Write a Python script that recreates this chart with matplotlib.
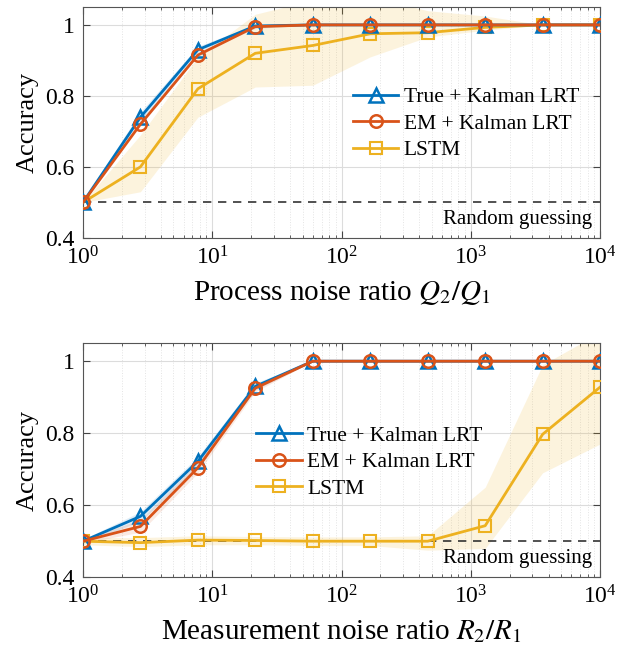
import matplotlib
matplotlib.use("Agg")
import matplotlib.pyplot as plt
import numpy as np

plt.rcParams["font.family"] = ["Liberation Serif", "DejaVu Serif"]
plt.rcParams["mathtext.fontset"] = "stix"

# noise ratios (log-spaced sweep 1 .. 1e4)
ratios = [1.0, 2.78, 7.74, 21.5, 59.9, 166.8, 464.2, 1292.0, 3594.0, 10000.0]

# top panel: process noise ratio
q_true = [0.50, 0.74, 0.93, 0.997, 1.0, 1.0, 1.0, 1.0, 1.0, 1.0]
q_em = [0.50, 0.72, 0.915, 0.995, 1.0, 1.0, 1.0, 1.0, 1.0, 1.0]
q_true_lo = [0.495, 0.725, 0.92, 0.99, 1.0, 1.0, 1.0, 1.0, 1.0, 1.0]
q_true_hi = [0.505, 0.755, 0.94, 1.0, 1.0, 1.0, 1.0, 1.0, 1.0, 1.0]
q_lstm = [0.50, 0.60, 0.82, 0.92, 0.942, 0.975, 0.978, 0.993, 1.0, 1.0]
q_lstm_lo = [0.50, 0.53, 0.74, 0.825, 0.83, 0.91, 0.966, 0.985, 1.0, 1.0]
q_lstm_hi = [0.50, 0.69, 0.91, 1.03, 1.07, 1.08, 1.04, 1.025, 1.0, 1.0]

# bottom panel: measurement noise ratio
r_true = [0.50, 0.569, 0.722, 0.93, 1.0, 1.0, 1.0, 1.0, 1.0, 1.0]
r_em = [0.50, 0.541, 0.704, 0.925, 1.0, 1.0, 1.0, 1.0, 1.0, 1.0]
r_true_lo = [0.495, 0.555, 0.705, 0.92, 1.0, 1.0, 1.0, 1.0, 1.0, 1.0]
r_true_hi = [0.505, 0.582, 0.735, 0.94, 1.0, 1.0, 1.0, 1.0, 1.0, 1.0]
r_em_lo = [0.495, 0.525, 0.69, 0.915, 1.0, 1.0, 1.0, 1.0, 1.0, 1.0]
r_em_hi = [0.505, 0.56, 0.72, 0.935, 1.0, 1.0, 1.0, 1.0, 1.0, 1.0]
r_lstm = [0.50, 0.496, 0.503, 0.502, 0.50, 0.50, 0.50, 0.543, 0.797, 0.928]
r_lstm_lo = [0.49, 0.485, 0.49, 0.49, 0.488, 0.488, 0.475, 0.48, 0.69, 0.77]
r_lstm_hi = [0.51, 0.51, 0.515, 0.513, 0.512, 0.512, 0.515, 0.65, 0.99, 1.08]

BLUE = (0.0, 0.447, 0.741)
ORANGE = (0.85, 0.325, 0.098)
YELLOW = (0.929, 0.694, 0.125)


def style_axes(ax, xlabel):
    ax.set_xscale("log")
    ax.set_xlim(1, 1e4)
    ax.set_ylim(0.4, 1.05)
    ax.set_yticks([0.4, 0.6, 0.8, 1.0])
    ax.set_yticklabels(["0.4", "0.6", "0.8", "1"])
    ax.grid(True, which="major", color="#dcdcdc", linewidth=0.8)
    ax.grid(True, which="minor", color="#e4e4e4", linestyle=":", linewidth=0.7)
    ax.tick_params(which="both", direction="in", top=True, right=True,
                   labelsize=17, color="#444444")
    ax.tick_params(which="major", length=5, pad=6)
    ax.tick_params(which="minor", length=2.5)
    for s in ax.spines.values():
        s.set_color("#555555")
        s.set_linewidth(0.8)
    ax.set_ylabel("Accuracy", fontsize=19, labelpad=5)
    ax.set_xlabel(xlabel, fontsize=21, labelpad=7)
    ax.set_axisbelow(True)


def draw_panel(ax, true, em, lstm, lstm_lo, lstm_hi, xlabel, legend_anchor,
               true_band=None, em_band=None):
    ax.fill_between(ratios, lstm_lo, lstm_hi, color=YELLOW, alpha=0.15,
                    linewidth=0, zorder=1)
    if true_band is not None:
        ax.fill_between(ratios, true_band[0], true_band[1], color=BLUE,
                        alpha=0.12, linewidth=0, zorder=1)
    if em_band is not None:
        ax.fill_between(ratios, em_band[0], em_band[1], color=ORANGE,
                        alpha=0.12, linewidth=0, zorder=1)
    ax.axhline(0.5, color="#333333", linestyle=(0, (5, 4)), linewidth=1.2,
               zorder=2)
    ax.plot(ratios, true, color=BLUE, linewidth=2, marker="^", markersize=10,
            markerfacecolor="none", markeredgewidth=1.8,
            label="True + Kalman LRT", zorder=4)
    ax.plot(ratios, em, color=ORANGE, linewidth=2, marker="o", markersize=9,
            markerfacecolor="none", markeredgewidth=1.8,
            label="EM + Kalman LRT", zorder=5)
    ax.plot(ratios, lstm, color=YELLOW, linewidth=2, marker="s", markersize=8,
            markerfacecolor="none", markeredgewidth=1.5,
            label="LSTM", zorder=3)
    ax.text(0.985, 0.04, "Random guessing", transform=ax.transAxes,
            ha="right", va="bottom", fontsize=15)
    ax.legend(loc="center left", bbox_to_anchor=legend_anchor, frameon=False,
              fontsize=15.5, handlelength=2.1, handletextpad=0.25,
              labelspacing=0.3, borderpad=0.2, borderaxespad=0)
    style_axes(ax, xlabel)


fig = plt.figure(figsize=(6.26, 6.5), dpi=100)
ax1 = fig.add_axes([0.1326, 0.634, 0.826, 0.355])
ax2 = fig.add_axes([0.1326, 0.112, 0.826, 0.360])

draw_panel(ax1, q_true, q_em, q_lstm, q_lstm_lo, q_lstm_hi,
           r"Process noise ratio $Q_2/Q_1$", (0.514, 0.494),
           true_band=(q_true_lo, q_true_hi))
draw_panel(ax2, r_true, r_em, r_lstm, r_lstm_lo, r_lstm_hi,
           r"Measurement noise ratio $R_2/R_1$", (0.327, 0.491),
           true_band=(r_true_lo, r_true_hi), em_band=(r_em_lo, r_em_hi))

fig.savefig("out.png", dpi=100)
